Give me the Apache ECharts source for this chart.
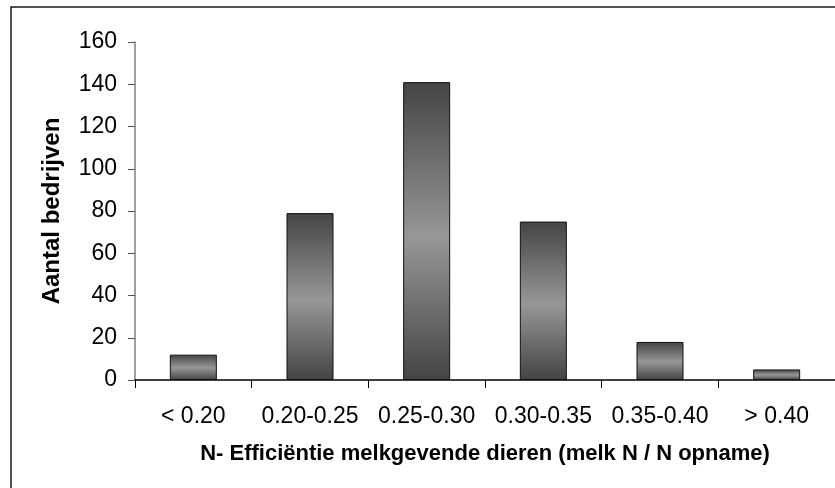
<!DOCTYPE html>
<html>
<head>
<meta charset="utf-8">
<script src="https://cdn.jsdelivr.net/npm/echarts@6/dist/echarts.min.js"></script>
<style>
  html, body { margin: 0; padding: 0; background: #fff; }
  #chart { width: 835px; height: 488px; }
</style>
</head>
<body>
<div id="chart"></div>
<script>
// Efficiency classes (N in milk / N intake) and number of farms per class
const categories = ['< 0.20', '0.20-0.25', '0.25-0.30', '0.30-0.35', '0.35-0.40', '> 0.40'];
const farmCounts = [12, 79, 141, 75, 18, 5];
const yTicks = { min: 0, max: 160, interval: 20 };

const font = '"Liberation Sans", Arial, sans-serif';

// Dark-light-dark vertical shading of each bar
const barFill = new echarts.graphic.LinearGradient(0, 0, 0, 1, [
  { offset: 0, color: '#444444' },
  { offset: 0.52, color: '#979797' },
  { offset: 1, color: '#444444' }
]);

const chart = echarts.init(document.getElementById('chart'), null, { renderer: 'canvas' });
chart.setOption({
  animation: false,
  backgroundColor: '#ffffff',
  textStyle: { fontFamily: font, color: '#000' },
  graphic: [{
    type: 'rect',
    shape: { x: 11, y: 7, width: 840, height: 500 },
    style: { fill: 'none', stroke: '#1a1a1a', lineWidth: 1.5 },
    silent: true
  }],
  grid: { left: 135, right: 0, top: 42, bottom: 108, containLabel: false },
  xAxis: {
    type: 'category',
    data: categories,
    name: 'N- Efficiëntie melkgevende dieren (melk N / N opname)',
    nameLocation: 'middle',
    nameGap: 63,
    nameTextStyle: { fontFamily: font, fontSize: 22, fontWeight: 'bold', color: '#000' },
    axisLine: { show: true, lineStyle: { color: '#000', width: 1.5 } },
    axisTick: { show: true, length: 8, alignWithLabel: false, lineStyle: { color: '#000', width: 1 } },
    axisLabel: { fontFamily: font, fontSize: 23, color: '#000', margin: 25, interval: 0 },
    splitLine: { show: false }
  },
  yAxis: {
    type: 'value',
    min: yTicks.min,
    max: yTicks.max,
    interval: yTicks.interval,
    name: 'Aantal bedrijven',
    nameLocation: 'middle',
    nameRotate: 90,
    nameGap: 71,
    nameTextStyle: { fontFamily: font, fontSize: 24, fontWeight: 'bold', color: '#000' },
    axisLine: { show: true, lineStyle: { color: '#808080', width: 1.5 } },
    axisTick: { show: true, length: 7, lineStyle: { color: '#555', width: 1 } },
    axisLabel: { fontFamily: font, fontSize: 23, color: '#000', margin: 18 },
    splitLine: { show: false }
  },
  series: [{
    type: 'bar',
    data: farmCounts,
    barWidth: 47,
    itemStyle: { color: barFill, borderColor: '#111', borderWidth: 1 }
  }]
});
</script>
</body>
</html>
